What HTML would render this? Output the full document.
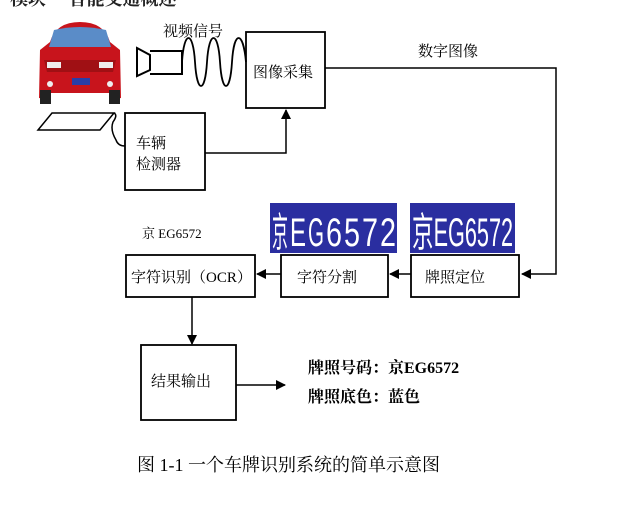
<!DOCTYPE html>
<html><head><meta charset="utf-8"><style>
body{margin:0;background:#fff}
svg text{font-family:"Liberation Serif","Noto Serif CJK SC","Noto Sans CJK SC",serif}
.p{font-family:'Liberation Sans','Noto Sans CJK SC',sans-serif;font-size:40px;fill:#fff}
</style></head><body>
<svg width="624" height="504" viewBox="0 0 624 504" xmlns="http://www.w3.org/2000/svg">
<defs><marker id="a" markerWidth="10" markerHeight="10" refX="9" refY="5" orient="auto" markerUnits="userSpaceOnUse"><path d="M0,0 L10,5 L0,10 Z" fill="#000"/></marker></defs>
<rect width="624" height="504" fill="#fff"/>
<text x="10" y="5" font-size="18" font-weight="bold" fill="#222">模块一 智能交通概述</text>
<!-- car -->
<path d="M50,42 Q56,22 80,22 Q104,22 110,42 L120,50 L121,98 L110,100 L110,93 L50,93 L50,100 L39,98 L40,50 Z" fill="#c8141c"/>
<path d="M54,30 Q80,24 106,30 L111,47 L49,47 Z" fill="#5a8cc8"/>
<path d="M44,60 L116,60 L113,72 L47,72 Z" fill="#a01014"/>
<rect x="47" y="62" width="14" height="6" fill="#eee"/><rect x="99" y="62" width="14" height="6" fill="#eee"/>
<rect x="72" y="78" width="18" height="7" fill="#2a3ea8"/>
<circle cx="50" cy="84" r="3" fill="#eee"/><circle cx="110" cy="84" r="3" fill="#eee"/>
<rect x="40" y="90" width="11" height="14" fill="#222"/><rect x="109" y="90" width="11" height="14" fill="#222"/>
<!-- sensor -->
<path d="M38,130 L52,113 L114,113 L100,130 Z" fill="none" stroke="#000" stroke-width="1.5"/>
<path d="M114,113 Q118,115 113,122 Q110,130 116,140 Q118,146 125,146" fill="none" stroke="#000" stroke-width="1.5"/>
<!-- camera -->
<path d="M137,48 L150,55 L150,70 L137,76 Z M150,51 L182,51 L182,74 L150,74" fill="none" stroke="#000" stroke-width="2"/>
<path d="M182,62 C184,30 193,30 195,62 C197,94 205,94 207,62 C209,30 218,30 220,62 C222,94 230,94 232,62 C234,30 243,30 246,62" fill="none" stroke="#000" stroke-width="1.8"/>
<text x="163" y="36" font-size="15">视频信号</text>
<rect x="246" y="32" width="79" height="76" fill="none" stroke="#000" stroke-width="1.8"/>
<text x="253" y="77" font-size="15">图像采集</text>
<rect x="125" y="113" width="80" height="77" fill="none" stroke="#000" stroke-width="1.8"/>
<text x="136" y="148" font-size="15">车辆</text>
<text x="136" y="169" font-size="15">检测器</text>
<path d="M205,153 L286,153 L286,110" fill="none" stroke="#000" stroke-width="1.5" marker-end="url(#a)"/>
<text x="418" y="56" font-size="15">数字图像</text>
<path d="M325,68 L556,68 L556,274 L522,274" fill="none" stroke="#000" stroke-width="1.5" marker-end="url(#a)"/>
<!-- plates -->
<rect x="270" y="203" width="127" height="50" fill="#2a2ea0"/>
<text class="p" x="272" y="246" textLength="16" lengthAdjust="spacingAndGlyphs">京</text>
<text class="p" x="290" y="246" textLength="16" lengthAdjust="spacingAndGlyphs">E</text>
<text class="p" x="308" y="246" textLength="16" lengthAdjust="spacingAndGlyphs">G</text>
<text class="p" x="326" y="246" textLength="16" lengthAdjust="spacingAndGlyphs">6</text>
<text class="p" x="344" y="246" textLength="16" lengthAdjust="spacingAndGlyphs">5</text>
<text class="p" x="362" y="246" textLength="16" lengthAdjust="spacingAndGlyphs">7</text>
<text class="p" x="380" y="246" textLength="16" lengthAdjust="spacingAndGlyphs">2</text>
<rect x="410" y="203" width="105" height="50" fill="#2a2ea0"/>
<text class="p" x="412" y="246" textLength="101" lengthAdjust="spacingAndGlyphs">京EG6572</text>
<text x="142" y="238" font-size="13">京 EG6572</text>
<rect x="411" y="255" width="108" height="42" fill="none" stroke="#000" stroke-width="1.8"/>
<text x="425" y="282" font-size="15">牌照定位</text>
<path d="M411,274 L390,274" stroke="#000" stroke-width="1.5" marker-end="url(#a)"/>
<rect x="281" y="255" width="107" height="42" fill="none" stroke="#000" stroke-width="1.8"/>
<text x="297" y="282" font-size="15">字符分割</text>
<path d="M281,274 L257,274" stroke="#000" stroke-width="1.5" marker-end="url(#a)"/>
<rect x="126" y="255" width="129" height="42" fill="none" stroke="#000" stroke-width="1.8"/>
<text x="131" y="282" font-size="15">字符识别（OCR）</text>
<path d="M192,297 L192,344" stroke="#000" stroke-width="1.5" marker-end="url(#a)"/>
<rect x="141" y="345" width="95" height="75" fill="none" stroke="#000" stroke-width="1.8"/>
<text x="151" y="386" font-size="15">结果输出</text>
<path d="M236,385 L285,385" stroke="#000" stroke-width="1.5" marker-end="url(#a)"/>
<text x="308" y="373" font-size="16" font-weight="bold">牌照号码：京EG6572</text>
<text x="308" y="402" font-size="16" font-weight="bold">牌照底色：蓝色</text>
<text x="137" y="471" font-size="18">图 1-1  一个车牌识别系统的简单示意图</text>
</svg>
</body></html>
